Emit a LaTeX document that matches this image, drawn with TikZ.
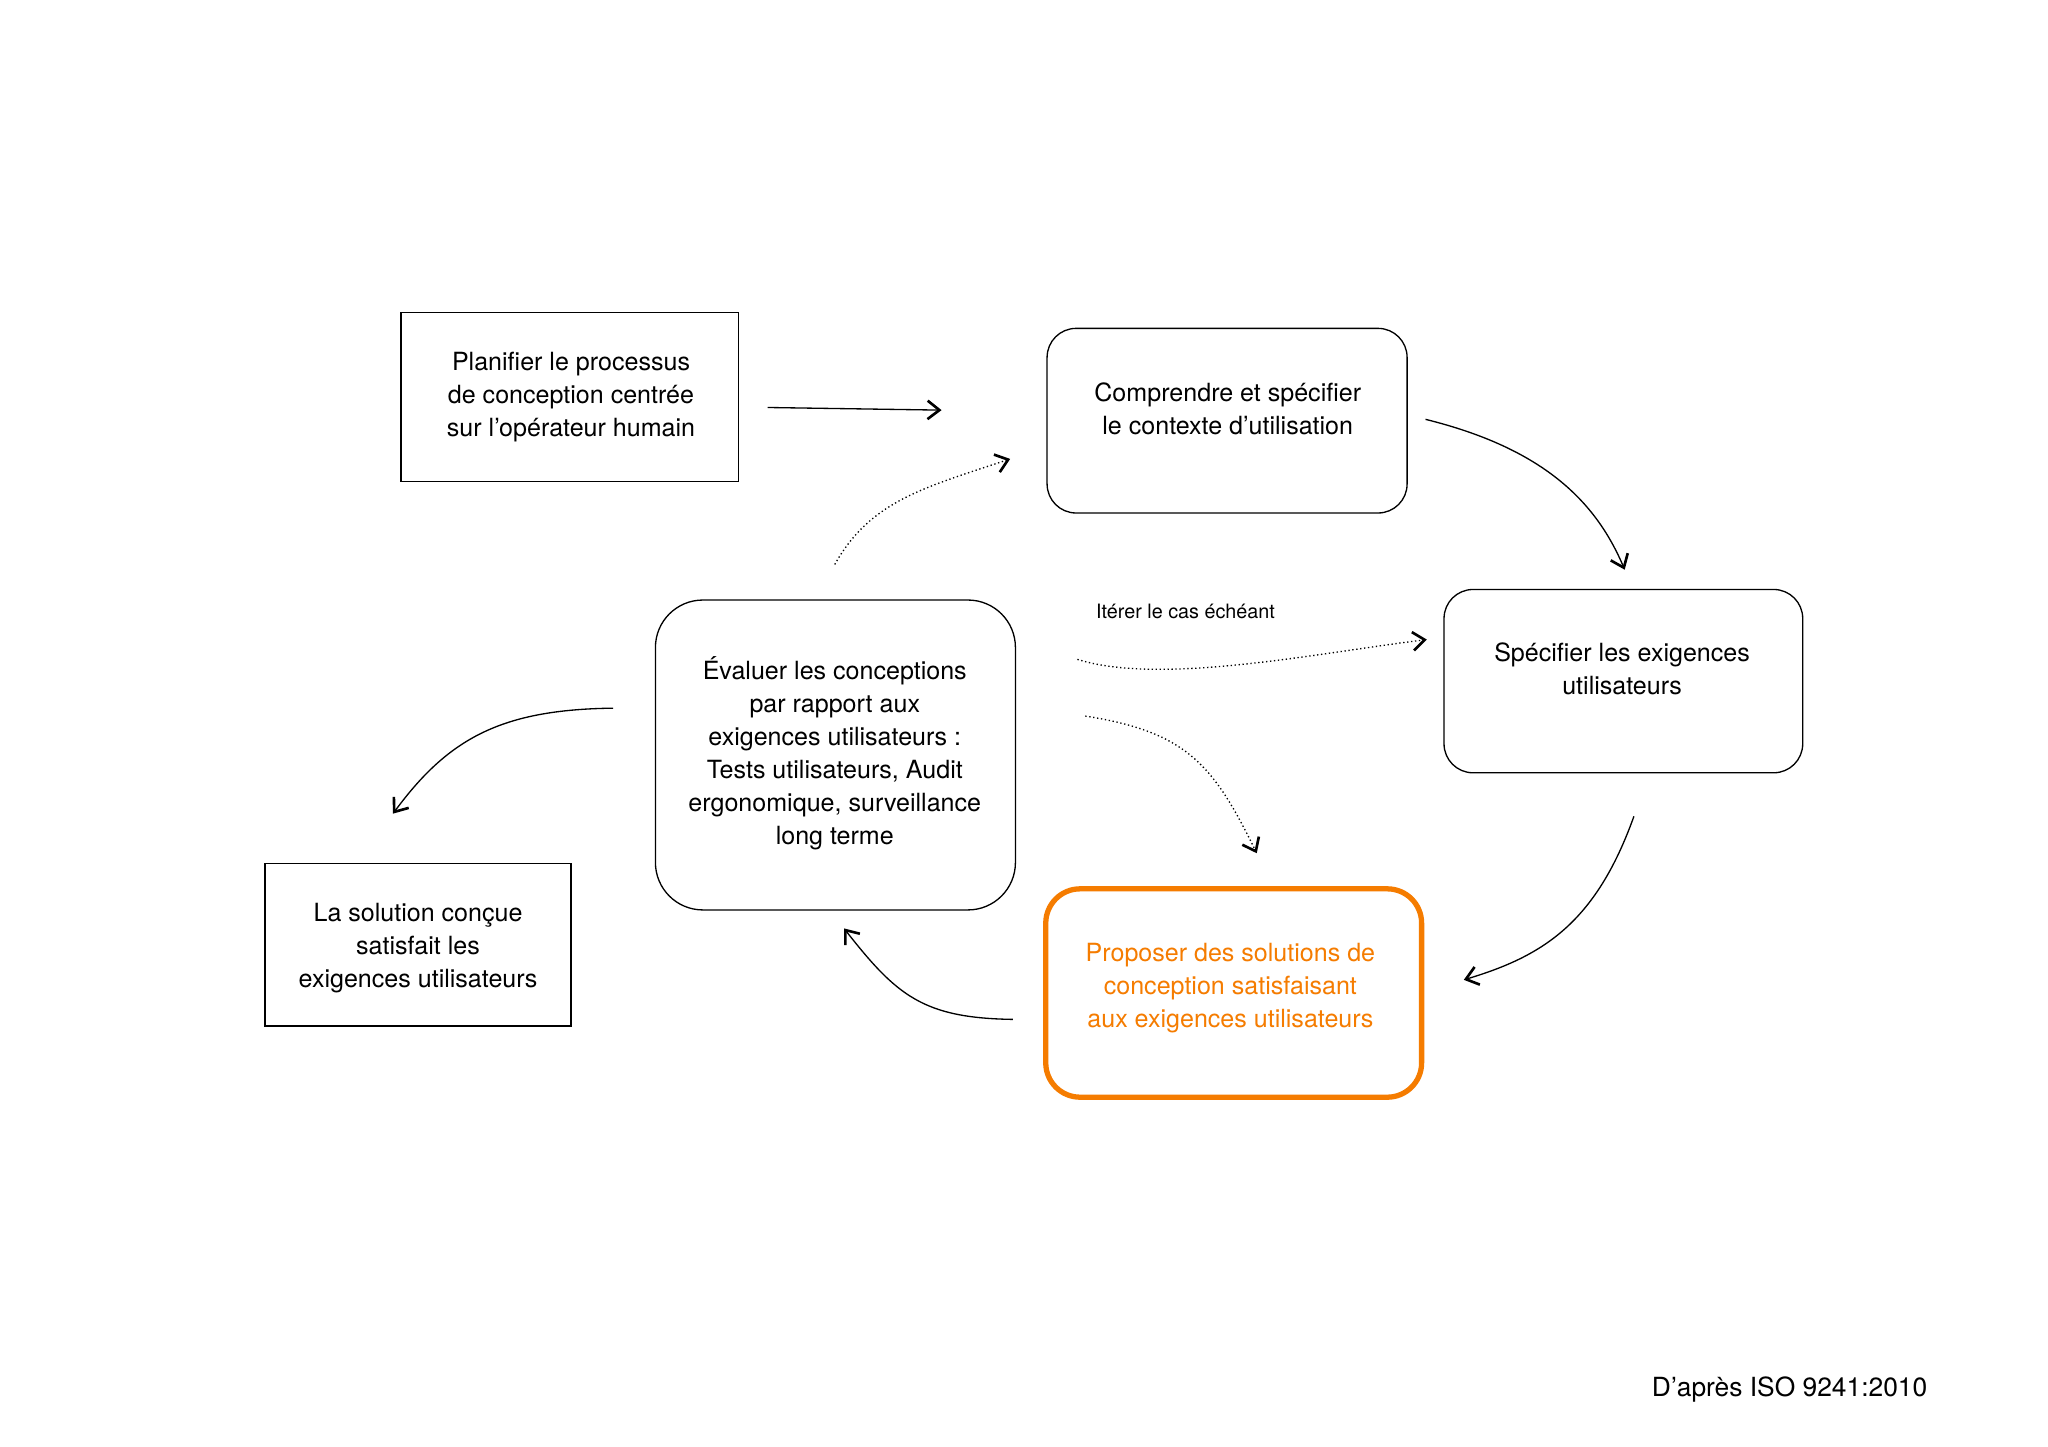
\documentclass[tikz,border=0pt]{standalone}
\usepackage{fontspec}
\setmainfont{TeX Gyre Heros}
\usetikzlibrary{arrows.meta}
\definecolor{orng}{HTML}{F57C00}
\begin{document}
\begin{tikzpicture}[x=1pt,y=-1pt,
 txt/.style={font=\fontsize{19}{25}\selectfont,align=center},
 sqbox/.style={draw,line width=1pt},
 rbox/.style={draw,line width=1pt,rounded corners=22pt},
 arr/.style={line width=1pt,-{Straight Barb[length=9pt,width=14pt,line width=2pt]}},
 dot/.style={arr,dotted}]
\useasboundingbox[fill=white] (0,0) rectangle (1553,1097);
\draw[sqbox] (304,237) rectangle (560,365);
\node[txt] (plan) at (433,301) {Planifier le processus\\de conception centrée\\sur l’opérateur humain};
\draw[rbox] (794,249) rectangle (1067,389);
\node[txt] (comp) at (931,310) {Comprendre et spécifier\\le contexte d’utilisation};
\draw[rbox] (1095,447) rectangle (1367,586);
\node[txt] (spec) at (1230,507) {Spécifier les exigences\\utilisateurs};
\draw[draw=orng,line width=4pt,rounded corners=26pt] (793,674) rectangle (1078,832);
\node[txt,text=orng] (prop) at (933,749) {Proposer des solutions de\\conception satisfaisant\\aux exigences utilisateurs};
\draw[rbox,rounded corners=36pt] (497,455) rectangle (770,690);
\node[txt] (eval) at (633,571) {Évaluer les conceptions\\par rapport aux\\exigences utilisateurs :\\Tests utilisateurs, Audit\\ergonomique, surveillance\\long terme};
\draw[sqbox] (201,655) rectangle (433,778);
\node[txt] (sol) at (317,719) {La solution conçue\\satisfait les\\exigences utilisateurs};
\node[font=\fontsize{15}{18}\selectfont] (iter) at (899,464) {Itérer le cas échéant};
\node[font=\fontsize{20}{24}\selectfont,anchor=east] (src) at (1465,1054) {D’après ISO 9241:2010};
\coordinate (a1) at (582,309); \coordinate (a2) at (714,311);
\coordinate (b1) at (1081,318); \coordinate (b2) at (1232,432);
\coordinate (c1) at (1239,619); \coordinate (c2) at (1110,743);
\coordinate (d1) at (768,773); \coordinate (d2) at (640,704);
\coordinate (e1) at (465,537); \coordinate (e2) at (298,617);
\coordinate (f1) at (633,428); \coordinate (f2) at (766,348);
\coordinate (g1) at (817,500); \coordinate (g2) at (1082,485);
\coordinate (h1) at (823,543); \coordinate (h2) at (953,647);
\draw[arr] (a1) -- (a2);
\draw[arr] (b1) .. controls (1170,340) and (1210,380) .. (b2);
\draw[arr] (c1) .. controls (1210,700) and (1170,725) .. (c2);
\draw[arr] (d1) .. controls (700,772) and (680,755) .. (d2);
\draw[arr] (e1) .. controls (380,538) and (340,560) .. (e2);
\draw[dot] (f1) .. controls (660,380) and (700,370) .. (f2);
\draw[dot] (g1) .. controls (880,520) and (1000,495) .. (g2);
\draw[dot] (h1) .. controls (900,555) and (920,580) .. (h2);
\end{tikzpicture}
\end{document}
